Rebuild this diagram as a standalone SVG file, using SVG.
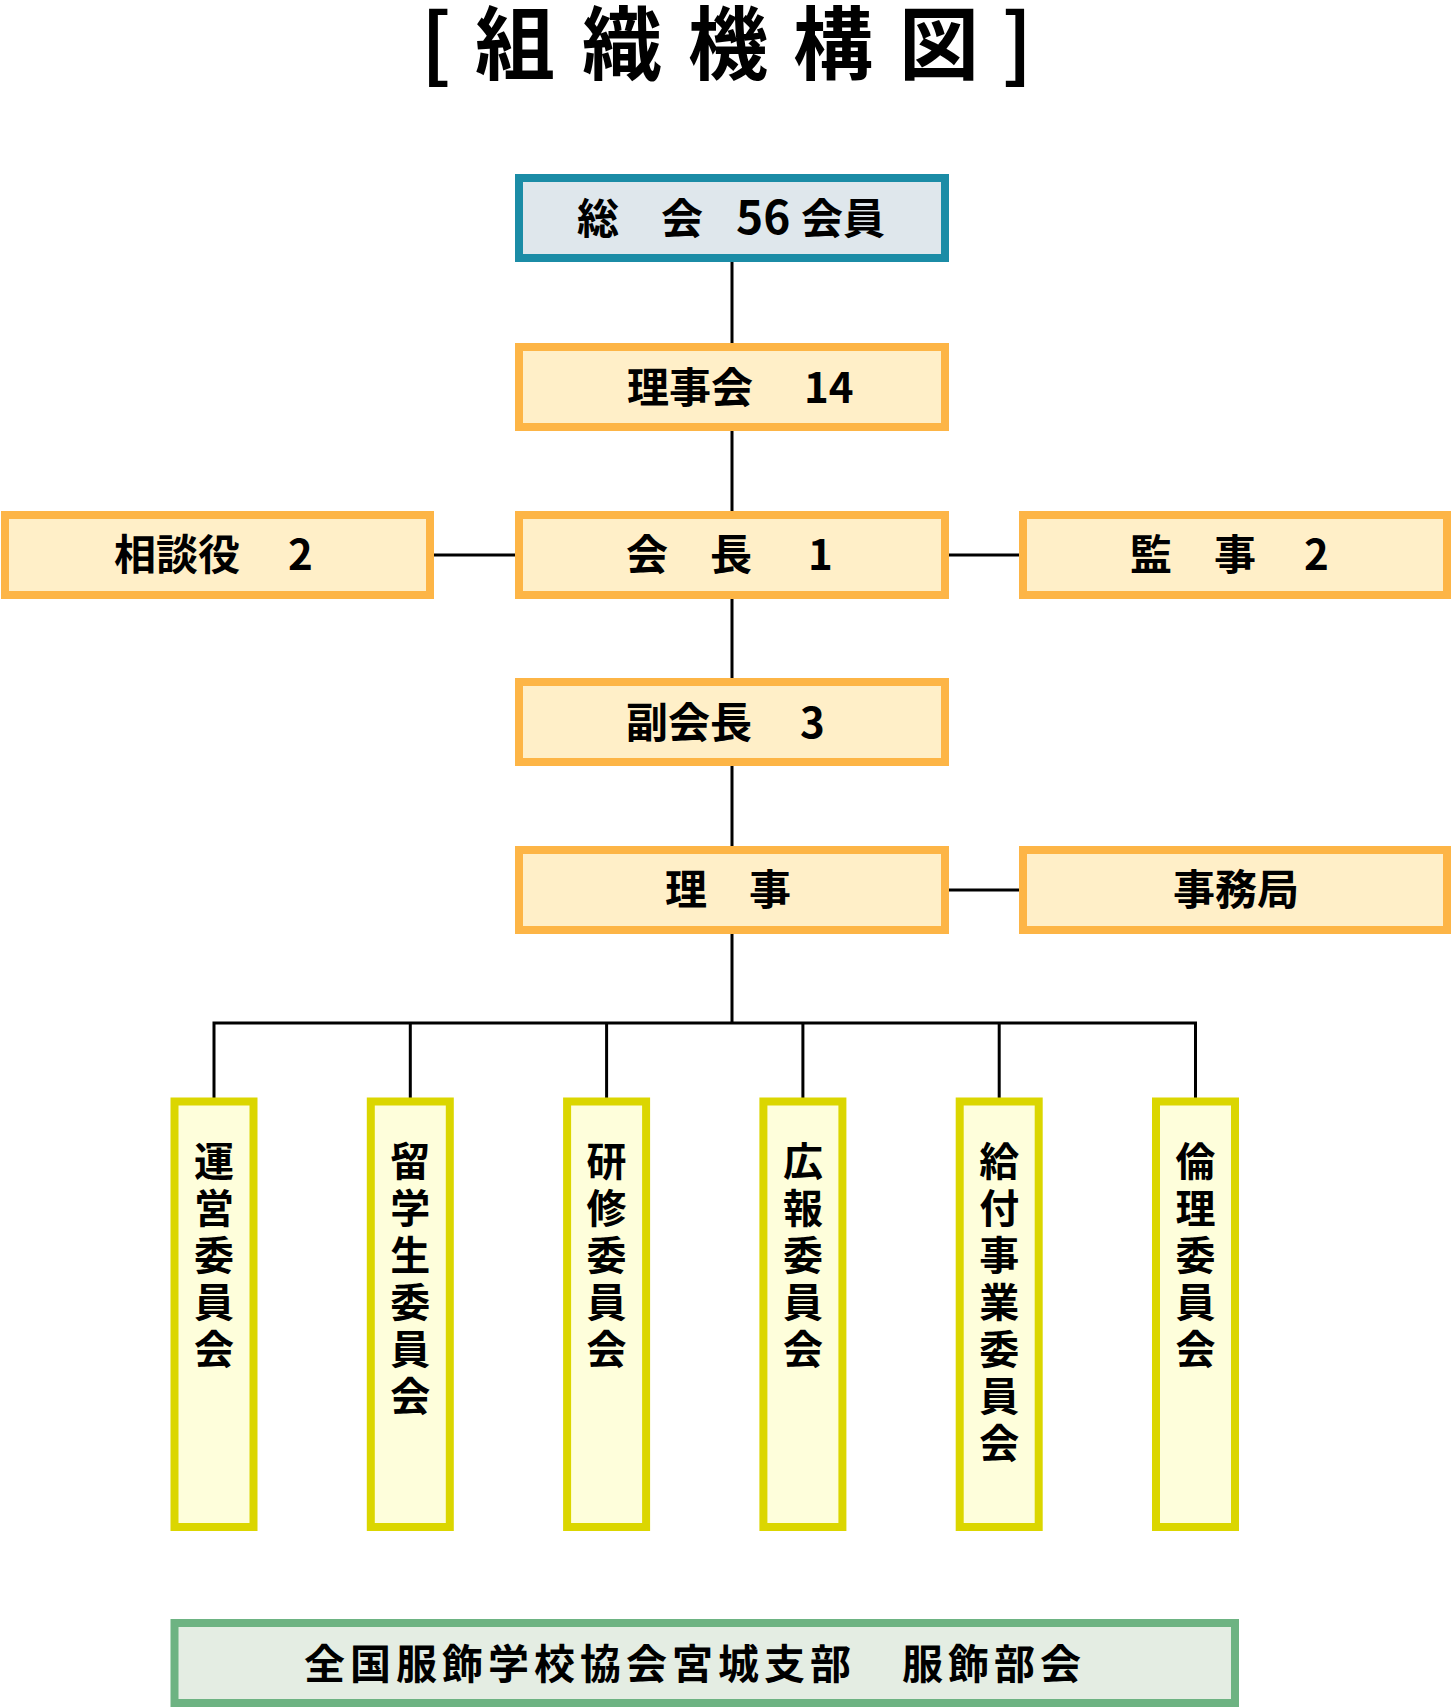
<svg xmlns="http://www.w3.org/2000/svg" width="1453" height="1708" viewBox="0 0 1453 1708">
<style>
  text { font-family: "Noto Sans CJK JP", "Noto Sans", sans-serif; font-weight: 700; fill: #000; }
  .lbl { font-size: 42px; }
  .vt { font-size: 40px; }
  .title { font-size: 80px; }
  .teal { fill: #dfe7ec; stroke: #1b8ca6; stroke-width: 8; }
  .org { fill: #ffefc8; stroke: #fdb546; stroke-width: 8; }
  .yel { fill: #fefedb; stroke: #dbd600; stroke-width: 8; }
  .grn { fill: #e4ede3; stroke: #6db382; stroke-width: 8; }
  .conn { fill: none; stroke: #000; stroke-width: 3; }
</style>
<rect width="1453" height="1708" fill="#fff"/>

<g id="title">
  <text class="title" xml:space="preserve" x="421 460 475 555 582 662 688 768 793 873 899 981 1002" y="73">[ 組 織 機 構 図 ]</text>
</g>

<g id="connectors">
  <path class="conn" d="M732 262 V343 M732 431 V511 M732 599 V678 M732 766 V846 M732 934 V1023"/>
  <path class="conn" d="M434 555 H515 M949 555 H1019 M949 890 H1019"/>
  <path class="conn" d="M214 1023 H1195.5 M214 1021.5 V1098 M410.3 1023 V1098 M606.6 1023 V1098 M802.9 1023 V1098 M999.2 1023 V1098 M1195.5 1021.5 V1098"/>
</g>

<g id="soukai">
  <rect class="teal" x="519" y="178" width="426" height="80"/>
  <text class="lbl" xml:space="preserve" x="577" y="234">総　会 <tspan x="736" style="font-size:46px">56</tspan><tspan x="801">会員</tspan></text>
</g>

<g id="rijikai">
  <rect class="org" x="519" y="347" width="426" height="80"/>
  <text class="lbl" xml:space="preserve" x="627" y="403">理事会　<tspan x="804">14</tspan></text>
</g>

<g id="soudanyaku">
  <rect class="org" x="5" y="515" width="425" height="80"/>
  <text class="lbl" xml:space="preserve" x="114" y="570">相談役　<tspan x="288">2</tspan></text>
</g>

<g id="kaichou">
  <rect class="org" x="519" y="515" width="426" height="80"/>
  <text class="lbl" xml:space="preserve" x="626" y="570">会　長　<tspan x="808">1</tspan></text>
</g>

<g id="kanji">
  <rect class="org" x="1023" y="515" width="424" height="80"/>
  <text class="lbl" xml:space="preserve" x="1130" y="570">監　事　<tspan x="1304">2</tspan></text>
</g>

<g id="fukukaichou">
  <rect class="org" x="519" y="682" width="426" height="80"/>
  <text class="lbl" xml:space="preserve" x="626" y="738">副会長　<tspan x="800">3</tspan></text>
</g>

<g id="riji">
  <rect class="org" x="519" y="850" width="426" height="80"/>
  <text class="lbl" xml:space="preserve" x="665" y="905">理　事</text>
</g>

<g id="jimukyoku">
  <rect class="org" x="1023" y="850" width="424" height="80"/>
  <text class="lbl" x="1173" y="905">事務局</text>
</g>

<g id="unei">
  <rect class="yel" x="174.5" y="1101.5" width="79" height="425.5"/>
  <text class="vt" text-anchor="middle" x="214 214 214 214 214" y="1176 1223 1270 1317 1364">運営委員会</text>
</g>
<g id="ryugakusei">
  <rect class="yel" x="370.8" y="1101.5" width="79" height="425.5"/>
  <text class="vt" text-anchor="middle" x="410.3 410.3 410.3 410.3 410.3 410.3" y="1176 1223 1270 1317 1364 1411">留学生委員会</text>
</g>
<g id="kenshu">
  <rect class="yel" x="567.1" y="1101.5" width="79" height="425.5"/>
  <text class="vt" text-anchor="middle" x="606.6 606.6 606.6 606.6 606.6" y="1176 1223 1270 1317 1364">研修委員会</text>
</g>
<g id="kouhou">
  <rect class="yel" x="763.4" y="1101.5" width="79" height="425.5"/>
  <text class="vt" text-anchor="middle" x="802.9 802.9 802.9 802.9 802.9" y="1176 1223 1270 1317 1364">広報委員会</text>
</g>
<g id="kyufu">
  <rect class="yel" x="959.7" y="1101.5" width="79" height="425.5"/>
  <text class="vt" text-anchor="middle" x="999.2 999.2 999.2 999.2 999.2 999.2 999.2" y="1176 1223 1270 1317 1364 1411 1458">給付事業委員会</text>
</g>
<g id="rinri">
  <rect class="yel" x="1156" y="1101.5" width="79" height="425.5"/>
  <text class="vt" text-anchor="middle" x="1195.5 1195.5 1195.5 1195.5 1195.5" y="1176 1223 1270 1317 1364">倫理委員会</text>
</g>

<g id="fukushoku">
  <rect class="grn" x="174.5" y="1623" width="1060.5" height="80"/>
  <text class="lbl" xml:space="preserve" x="304" y="1679" style="font-size:41px;letter-spacing:5px">全国服飾学校協会宮城支部　服飾部会</text>
</g>
</svg>
